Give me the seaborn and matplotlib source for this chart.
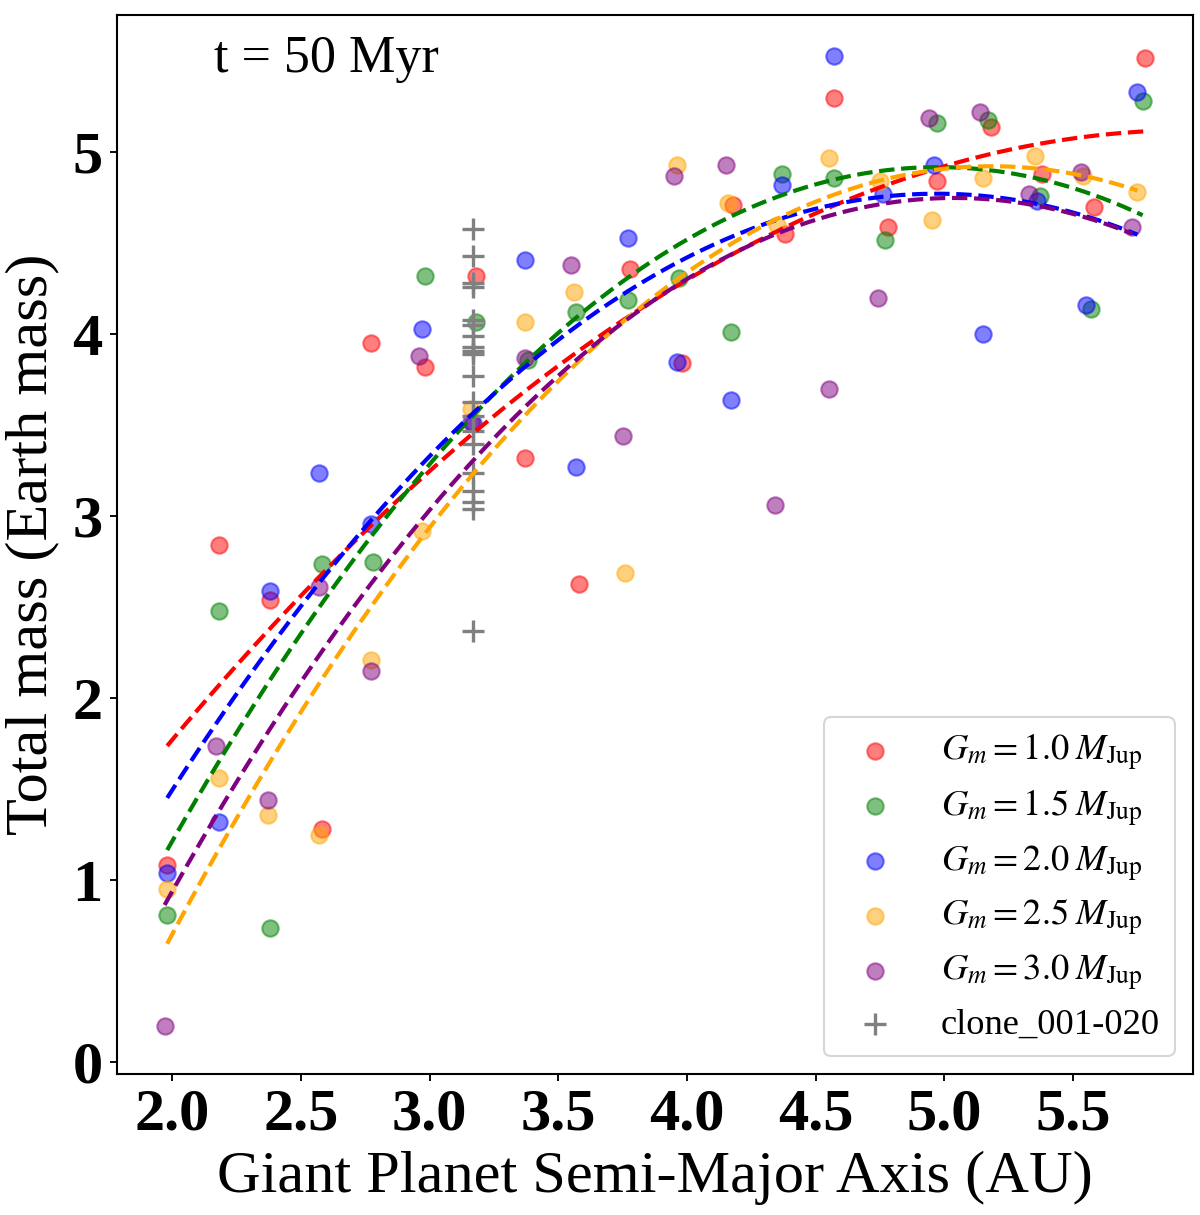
import numpy as np
import pandas as pd
import matplotlib
matplotlib.use("Agg")
import matplotlib.pyplot as plt
import seaborn as sns

# ---------------- data ----------------
series_labels = [r"$G_m = 1.0\;M_{\rm Jup}$", r"$G_m = 1.5\;M_{\rm Jup}$",
                 r"$G_m = 2.0\;M_{\rm Jup}$", r"$G_m = 2.5\;M_{\rm Jup}$",
                 r"$G_m = 3.0\;M_{\rm Jup}$"]
series_colors = ["red", "green", "blue", "orange", "purple"]

red_x = [1.98, 2.18, 2.38, 2.58, 2.77, 2.98, 3.18, 3.37, 3.58, 3.78,
         3.98, 4.18, 4.38, 4.57, 4.78, 4.97, 5.18, 5.38, 5.58, 5.78]
red_y = [1.085, 2.84, 2.54, 1.28, 3.95, 3.82, 4.32, 3.32, 2.63, 4.36,
         3.84, 4.71, 4.55, 5.30, 4.59, 4.84, 5.14, 4.88, 4.70, 5.52]

green_x = [1.98, 2.18, 2.38, 2.58, 2.78, 2.98, 3.18, 3.38, 3.57, 3.77,
           3.97, 4.17, 4.37, 4.57, 4.77, 4.97, 5.17, 5.37, 5.57, 5.77]
green_y = [0.81, 2.48, 0.74, 2.74, 2.75, 4.32, 4.07, 3.86, 4.12, 4.19,
           4.31, 4.01, 4.88, 4.86, 4.52, 5.16, 5.18, 4.76, 4.14, 5.28]

blue_x = [1.98, 2.18, 2.38, 2.57, 2.77, 2.97, 3.17, 3.37, 3.57, 3.77,
          3.96, 4.17, 4.37, 4.57, 4.76, 4.96, 5.15, 5.36, 5.55, 5.75]
blue_y = [1.04, 1.32, 2.59, 3.24, 2.96, 4.03, 3.51, 4.41, 3.27, 4.53,
          3.85, 3.64, 4.82, 5.53, 4.77, 4.93, 4.00, 4.73, 4.16, 5.33]

orange_x = [1.98, 2.18, 2.37, 2.57, 2.77, 2.97, 3.16, 3.37, 3.56, 3.76,
            3.96, 4.16, 4.35, 4.55, 4.75, 4.95, 5.15, 5.35, 5.54, 5.75]
orange_y = [0.95, 1.56, 1.36, 1.25, 2.21, 2.92, 3.59, 4.07, 4.23, 2.69,
            4.93, 4.72, 4.60, 4.97, 4.84, 4.63, 4.86, 4.98, 4.87, 4.78]

purple_x = [1.97, 2.17, 2.37, 2.57, 2.77, 2.96, 3.16, 3.37, 3.55, 3.75,
            3.95, 4.15, 4.34, 4.55, 4.74, 4.94, 5.14, 5.33, 5.53, 5.73]
purple_y = [0.20, 1.74, 1.44, 2.61, 2.15, 3.88, 3.52, 3.87, 4.38, 3.44,
            4.87, 4.93, 3.06, 3.70, 4.20, 5.19, 5.22, 4.77, 4.89, 4.59]

clone_label = "clone_001-020"
clone_x = [3.17] * 20
clone_y = [4.58, 4.43, 4.28, 4.26, 4.08, 4.05, 3.99, 3.93, 3.91, 3.89,
           3.77, 3.63, 3.55, 3.47, 3.40, 3.24, 3.14, 3.08, 3.04, 2.37]

x_ticks = [2.0, 2.5, 3.0, 3.5, 4.0, 4.5, 5.0, 5.5]
y_ticks = [0, 1, 2, 3, 4, 5]
x_label = "Giant Planet Semi-Major Axis (AU)"
y_label = "Total mass (Earth mass)"
time_text = "t = 50 Myr"

# ---------------- style ----------------
sns.set_style("ticks")
plt.rcParams["font.family"] = ["Liberation Serif", "DejaVu Serif"]
plt.rcParams["mathtext.fontset"] = "stix"
plt.rcParams["text.color"] = "black"
plt.rcParams["axes.labelcolor"] = "black"
plt.rcParams["axes.edgecolor"] = "black"
plt.rcParams["xtick.color"] = "black"
plt.rcParams["ytick.color"] = "black"
plt.rcParams["axes.linewidth"] = 1.0
plt.rcParams["xtick.major.size"] = 3.5
plt.rcParams["ytick.major.size"] = 3.5
plt.rcParams["xtick.major.width"] = 0.9
plt.rcParams["ytick.major.width"] = 0.9

fig = plt.figure(figsize=(8, 8.1), dpi=150)
ax = fig.add_axes([0.0975, 0.116, 0.8965, 0.8717])

xs = [red_x, green_x, blue_x, orange_x, purple_x]
ys = [red_y, green_y, blue_y, orange_y, purple_y]

handles = []
for x, y, c, lab in zip(xs, ys, series_colors, series_labels):
    df = pd.DataFrame({"a": x, "m": y})
    sns.scatterplot(data=df, x="a", y="m", ax=ax, color=c, alpha=0.5,
                    s=62, edgecolor=c, linewidth=1.0, zorder=2, legend=False)
    handles.append(ax.collections[-1])

dfc = pd.DataFrame({"a": clone_x, "m": clone_y})
sns.scatterplot(data=dfc, x="a", y="m", ax=ax, color="gray", marker="+",
                s=110, linewidth=1.6, zorder=2, legend=False)
handles.append(ax.collections[-1])

for x, y, c in zip(xs, ys, series_colors):
    df = pd.DataFrame({"a": x, "m": y})
    sns.regplot(data=df, x="a", y="m", ax=ax, order=2, ci=None, scatter=False,
                color=c, line_kws=dict(ls="--", lw=2.0, zorder=3))

ax.set_xlim(1.785, 5.965)
ax.set_ylim(-0.065, 5.755)
ax.set_xticks(x_ticks)
ax.set_xticklabels([f"{t:.1f}" for t in x_ticks])
ax.set_yticks(y_ticks)
ax.set_yticklabels([str(t) for t in y_ticks])
for lab in ax.get_xticklabels() + ax.get_yticklabels():
    lab.set_fontweight("bold")
    lab.set_fontsize(29)
ax.set_xlabel(x_label, fontsize=29, labelpad=4, color="black")
ax.set_ylabel(y_label, fontsize=29, labelpad=6, color="black")

ax.text(0.09, 0.946, time_text, transform=ax.transAxes, fontsize=25,
        va="baseline", ha="left", color="black")

leg = ax.legend(handles=handles, labels=series_labels + [clone_label],
                loc="lower right", fontsize=17.5, frameon=True,
                labelspacing=0.4)
for t in leg.get_texts():
    t.set_color("black")

fig.savefig("out.png", dpi=150)
